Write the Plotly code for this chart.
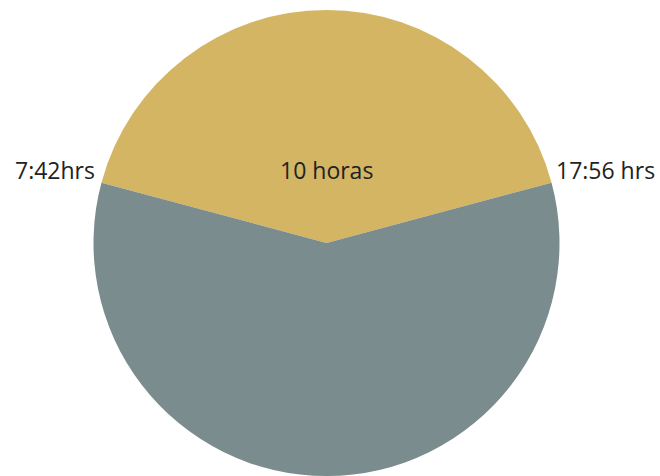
import plotly.graph_objects as go

# Daylight vs. night hours in a 24 h day
segments = ["Día", "Noche"]
hours = [10, 14]
colors = ["#D4B563", "#7B8C8E"]

sunrise_label = "7:42hrs"
sunset_label = "17:56 hrs"
day_label = "10 horas"

fig = go.Figure(
    go.Pie(
        labels=segments,
        values=hours,
        sort=False,
        direction="clockwise",
        rotation=-hours[0] / sum(hours) * 360 / 2,
        marker=dict(colors=colors, line=dict(width=0)),
        textinfo="none",
        hoverinfo="label+value",
        showlegend=False,
    )
)

font = dict(family="Open Sans, Lato, sans-serif", size=23, color="#222222")
label_y = (476 - 170) / 466
fig.update_layout(
    width=660,
    height=476,
    margin=dict(l=0, r=7, t=10, b=0),
    paper_bgcolor="white",
    plot_bgcolor="white",
    annotations=[
        dict(text=sunrise_label, x=97 / 653, y=label_y, xref="paper", yref="paper",
             xanchor="right", yanchor="middle", showarrow=False, font=font),
        dict(text=sunset_label, x=554 / 653, y=label_y, xref="paper", yref="paper",
             xanchor="left", yanchor="middle", showarrow=False, font=font),
        dict(text=day_label, x=327 / 653, y=label_y, xref="paper", yref="paper",
             xanchor="center", yanchor="middle", showarrow=False, font=font),
    ],
)

fig.write_html("out.html")
